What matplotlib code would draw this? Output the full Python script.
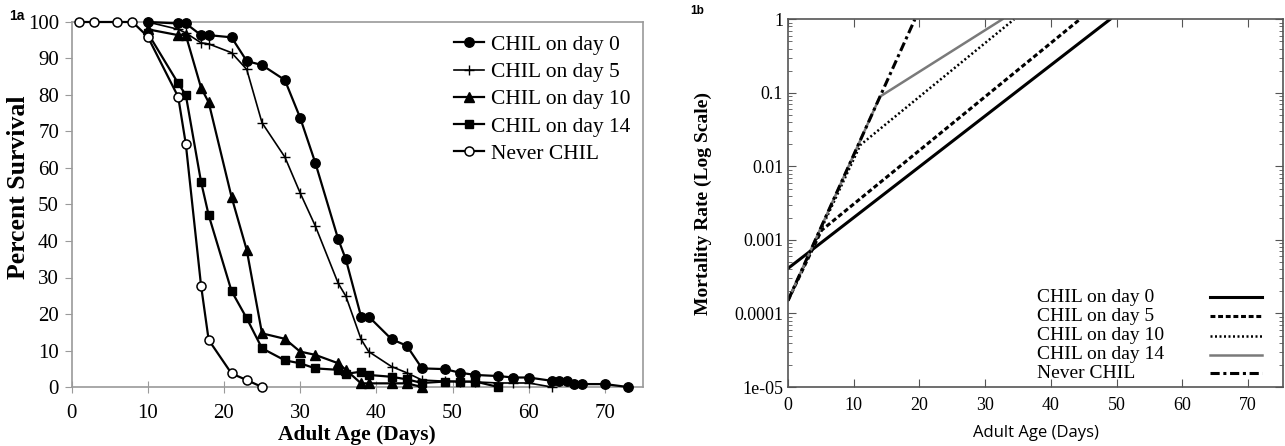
import matplotlib
matplotlib.use("Agg")
import matplotlib.pyplot as plt
from matplotlib.lines import Line2D
from matplotlib.ticker import LogLocator, NullFormatter, FixedLocator

# ---- panel 1a: survival curves (percent) ----
never_x = [1, 3, 6, 8, 10, 14, 15, 17, 18, 21, 23, 25]
never_y = [100, 100, 100, 100, 96, 79.5, 66.6, 27.8, 12.9, 3.7, 1.9, 0]

d14_x = [10, 14, 15, 17, 18, 21, 23, 25, 28, 30, 32, 35, 36, 38, 39, 42, 44, 46, 49, 51, 53, 56]
d14_y = [97, 83.2, 80, 56.2, 47.1, 26.3, 18.8, 10.6, 7.3, 6.5, 5.1, 4.7, 3.6, 4.2, 3.3, 2.8, 2.1, 1.1, 1.5, 1.5, 1.5, 0]

d10_x = [10, 14, 15, 17, 18, 21, 23, 25, 28, 30, 32, 35, 36, 38, 39, 42, 44, 46]
d10_y = [98, 96.4, 96.4, 82, 78, 52.1, 37.5, 14.7, 13.2, 9.7, 8.8, 6.5, 4.7, 1, 1, 1, 1, 0]

d5_x = [10, 14, 15, 17, 18, 21, 23, 25, 28, 30, 32, 35, 36, 38, 39, 42, 44, 46, 49, 51, 53, 56, 58, 60, 63]
d5_y = [100, 98, 97, 94.3, 94, 91.6, 87, 72.4, 63, 53.2, 44.1, 28.4, 24.9, 13.1, 9.7, 5.6, 3.9, 1.9, 1.6, 1.5, 1.4, 1.1, 1.1, 1.1, 0]

d0_x = [10, 14, 15, 17, 18, 21, 23, 25, 28, 30, 32, 35, 36, 38, 39, 42, 44, 46, 49, 51,
        53, 56, 58, 60, 63, 64, 65, 66, 67, 70, 73]
d0_y = [100, 99.6, 99.6, 96.4, 96.4, 95.8, 89.3, 88.2, 84.1, 73.8, 61.4, 40.5, 35, 19.3, 19.3, 13.1, 11.3, 5.1, 4.9, 3.9,
        3.3, 3.0, 2.6, 2.6, 1.7, 1.7, 1.7, 0.8, 0.8, 0.8, 0]

# ---- panel 1b: fitted mortality (segment end points, log scale) ----
gb_d0_x = [0, 49]
gb_d0_y = [4.1e-4, 1.0]
gb_d5_x = [0, 5.1, 44.4]
gb_d5_y = [1.5e-4, 1.35e-3, 1.0]
gb_d10_x = [0, 11.0, 34.4]
gb_d10_y = [1.5e-4, 1.95e-2, 1.0]
gb_d14_x = [0, 14.0, 32.6]
gb_d14_y = [1.5e-4, 8.9e-2, 1.0]
gb_never_x = [0, 19.3]
gb_never_y = [1.5e-4, 1.0]

labels = ["CHIL on day 0", "CHIL on day 5", "CHIL on day 10", "CHIL on day 14", "Never CHIL"]

SERIF = ["Liberation Serif", "DejaVu Serif"]
SANS = ["Open Sans", "DejaVu Sans"]
plt.rcParams["font.family"] = SERIF

fig = plt.figure(figsize=(12.85, 4.46), dpi=100)
ax1 = fig.add_axes([71.5 / 1285, 59 / 446, (643 - 71.5) / 1285, 365 / 446])
ax2 = fig.add_axes([788 / 1285, 59 / 446, 495 / 1285, 367.7 / 446])

# ---------------- panel a ----------------
lw = 1.6
ax1.plot(d0_x, d0_y, "-o", color="black", lw=lw, ms=6.8, label=labels[0], clip_on=False, zorder=5)
ax1.plot(d5_x, d5_y, "-", marker="+", color="black", lw=1.2, ms=7, mew=1.0, label=labels[1], clip_on=False, zorder=4)
ax1.plot(d10_x, d10_y, "-^", color="black", lw=lw, ms=7, label=labels[2], clip_on=False, zorder=4)
ax1.plot(d14_x, d14_y, "-s", color="black", lw=lw, ms=6.2, label=labels[3], clip_on=False, zorder=4)
ax1.plot(never_x, never_y, "-o", color="black", mfc="white", lw=lw, ms=6.5, mew=1.1,
         label=labels[4], clip_on=False, zorder=6)

ax1.set_xlim(0, 75)
ax1.set_ylim(0, 100)
ax1.xaxis.set_major_locator(FixedLocator(range(0, 71, 10)))
ax1.yaxis.set_major_locator(FixedLocator(range(0, 101, 10)))
for s in ax1.spines.values():
    s.set_color("#9a9a9a")
    s.set_linewidth(1.2)
ax1.tick_params(axis="y", direction="out", length=5, color="#9a9a9a", labelsize=15, pad=4)
ax1.tick_params(axis="x", direction="inout", length=8, color="#9a9a9a", labelsize=15, pad=8)
ax1.set_xlabel("Adult Age (Days)", fontsize=15.5, fontweight="bold", labelpad=2)
ax1.set_ylabel("Percent Survival", fontsize=18.5, fontweight="bold")
ax1.yaxis.set_label_coords(-0.072, 0.548)
ax1.legend(loc="upper right", bbox_to_anchor=(1.0, 1.0), frameon=False, fontsize=15.5,
           handlelength=1.4, handletextpad=0.3, labelspacing=0.33, borderaxespad=0.2)
fig.text(9 / 1285, 1 - 20 / 446, "1a", fontsize=10, fontweight="bold", family=["Liberation Sans", "DejaVu Sans"])

# ---------------- panel b ----------------
styles_b = [
    dict(color="black", lw=2.2, ls="-"),
    dict(color="black", lw=2.2, ls=(0, (1.6, 0.9))),
    dict(color="black", lw=1.8, ls=(0, (0.8, 1.0))),
    dict(color="#7a7a7a", lw=1.8, ls="-"),
    dict(color="black", lw=2.2, ls=(0, (3, 1.2, 1, 1.2))),
]
series_b = [(gb_d0_x, gb_d0_y), (gb_d5_x, gb_d5_y), (gb_d10_x, gb_d10_y),
            (gb_d14_x, gb_d14_y), (gb_never_x, gb_never_y)]
for (xs, ys), st in zip(series_b, styles_b):
    ax2.plot(xs, ys, **st)

ax2.set_yscale("log")
ax2.set_xlim(0, 75.3)
ax2.set_ylim(1e-5, 1)
ax2.xaxis.set_major_locator(FixedLocator(range(0, 71, 10)))
ax2.yaxis.set_major_locator(FixedLocator([1e-5, 1e-4, 1e-3, 1e-2, 1e-1, 1]))
ax2.yaxis.set_minor_locator(LogLocator(base=10, subs=range(2, 10)))
ax2.yaxis.set_minor_formatter(NullFormatter())
ax2.set_yticklabels(["1e-05", "0.0001", "0.001", "0.01", "0.1", "1"])
for s in ax2.spines.values():
    s.set_color("#555555")
    s.set_linewidth(1.2)
ax2.tick_params(which="both", direction="in", top=True, right=True, color="#555555", labelsize=13)
ax2.tick_params(which="major", length=6)
ax2.tick_params(which="minor", length=3)
ax2.tick_params(axis="x", pad=7)
ax2.set_xlabel("Adult Age (Days)", fontsize=12, family=SANS, labelpad=8)
ax2.set_ylabel("Mortality Rate (Log Scale)", fontsize=14, fontweight="bold", labelpad=16)

# gnuplot-style key: text left-aligned, sample on the right
key_y = [0.244, 0.193, 0.140, 0.088, 0.037]
for lab, st, ky in zip(labels, styles_b, key_y):
    ax2.text(0.503, ky, lab, transform=ax2.transAxes, ha="left", va="center", fontsize=14)
    ax2.add_line(Line2D([0.853, 0.958], [ky, ky], transform=ax2.transAxes, **st))
fig.text(690 / 1285, 1 - 14 / 446, "1b", fontsize=8.5, fontweight="bold", family=["Liberation Sans", "DejaVu Sans"])

fig.savefig("out.png", dpi=100)
